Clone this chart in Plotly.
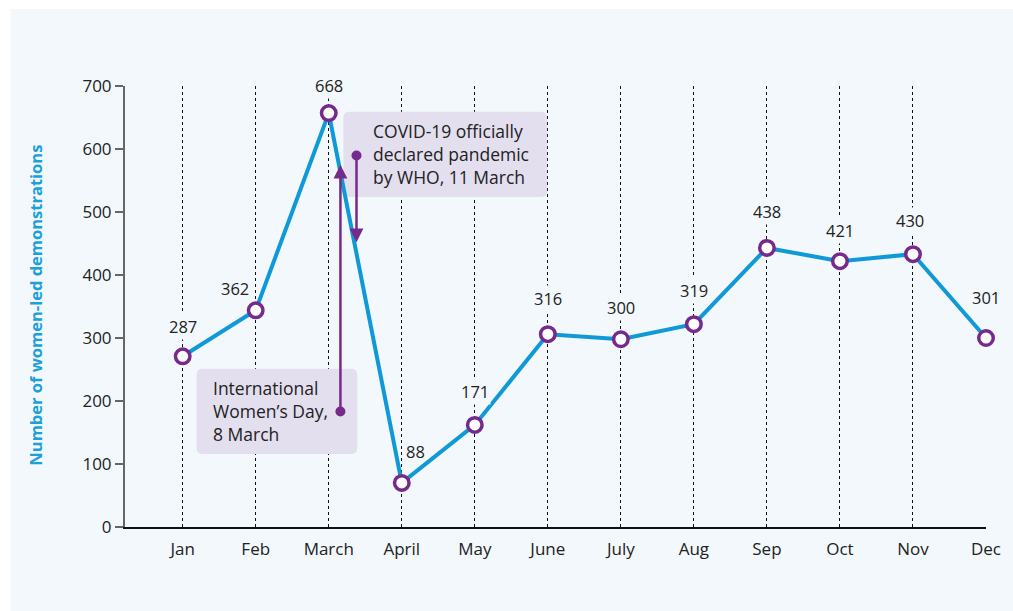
import plotly.graph_objects as go

MONTHS = ["Jan", "Feb", "March", "April", "May", "June", "July", "Aug", "Sep", "Oct", "Nov", "Dec"]
# plotted positions (as drawn) and printed labels
POINT_VALUES = [271, 344, 657, 70, 162, 306, 298, 322, 443, 422, 433, 300]
LABEL_VALUES = [287, 362, 668, 88, 171, 316, 300, 319, 438, 421, 430, 301]
Y_TICKS = [0, 100, 200, 300, 400, 500, 600, 700]

# label offsets (px) from each marker
LABEL_DX = [0, -21, 0, 14, 0, 0, 0, 0, 0, 0, -3, 0]
LABEL_DY = [30, 22, 28, 31, 33, 36, 32, 34, 36, 31, 34, 41]

BLUE = "#0f9ad7"
PURPLE = "#762a8c"
PANEL = "#f3f8fc"
BOX = "#e3dfef"
FONT = "Open Sans"


def rounded_rect(x0, x1, y0, y1, rx, ry):
    """SVG path for a rectangle with rounded corners (in data units)."""
    return (
        f"M {x0 + rx},{y0} L {x1 - rx},{y0} Q {x1},{y0} {x1},{y0 + ry} "
        f"L {x1},{y1 - ry} Q {x1},{y1} {x1 - rx},{y1} "
        f"L {x0 + rx},{y1} Q {x0},{y1} {x0},{y1 - ry} "
        f"L {x0},{y0 + ry} Q {x0},{y0} {x0 + rx},{y0} Z"
    )


fig = go.Figure()

fig.add_trace(
    go.Scatter(
        x=list(range(len(MONTHS))),
        y=POINT_VALUES,
        mode="lines+markers",
        line=dict(color=BLUE, width=4),
        marker=dict(size=14.5, color="white", line=dict(color=PURPLE, width=3.5)),
        cliponaxis=False,
        hoverinfo="skip",
        showlegend=False,
    )
)

annotations = []
for i, (v, lab) in enumerate(zip(POINT_VALUES, LABEL_VALUES)):
    # label sits close to the line for April; no backing box there
    bg = "rgba(0,0,0,0)" if MONTHS[i] == "April" else PANEL
    annotations.append(
        dict(
            x=i, y=v, text=str(lab), showarrow=False,
            xshift=LABEL_DX[i], yshift=LABEL_DY[i],
            font=dict(family=FONT, size=16.5, color="#222"),
            bgcolor=bg, borderpad=1,
        )
    )

# event notes
annotations.append(
    dict(
        x=2.58, y=592, xanchor="left", yanchor="middle", align="left",
        text="COVID-19 officially<br>declared pandemic<br>by WHO, 11 March",
        showarrow=False, font=dict(family=FONT, size=17.5, color="#222"),
    )
)
annotations.append(
    dict(
        x=0.39, y=184, xanchor="left", yanchor="middle", align="left",
        text="International<br>Women’s Day,<br>8 March",
        showarrow=False, font=dict(family=FONT, size=17.5, color="#222"),
    )
)
# arrows: head at (x, y), dot at tail (ax, ay)
annotations.append(
    dict(
        x=2.16, y=575, ax=2.16, ay=181, axref="x", ayref="y", text="",
        showarrow=True, arrowhead=2, arrowsize=1.1, arrowwidth=2.5,
        arrowside="end+start", startarrowhead=6, startarrowsize=1,
        arrowcolor=PURPLE, standoff=0, startstandoff=0,
    )
)
annotations.append(
    dict(
        x=2.38, y=452, ax=2.38, ay=592, axref="x", ayref="y", text="",
        showarrow=True, arrowhead=2, arrowsize=1.1, arrowwidth=2.5,
        arrowside="end+start", startarrowhead=6, startarrowsize=1,
        arrowcolor=PURPLE, standoff=0, startstandoff=0,
    )
)
annotations.append(
    dict(
        xref="paper", yref="paper", x=-0.104, y=0.503,
        xanchor="center", yanchor="middle",
        text="<b>Number of women-led demonstrations</b>", textangle=-90,
        showarrow=False, font=dict(family=FONT, size=16.5, color="#1aa0da"),
    )
)

shapes = [
    dict(type="rect", xref="paper", yref="paper", x0=-0.133, x1=1.1, y0=-0.4, y1=1.1746,
         fillcolor=PANEL, line=dict(width=0), layer="below"),
    dict(type="path", xref="x", yref="y", path=rounded_rect(2.20, 4.99, 524, 659, 0.08, 9.5),
         fillcolor=BOX, line=dict(width=0), layer="between"),
    dict(type="path", xref="x", yref="y", path=rounded_rect(0.19, 2.39, 116, 251, 0.08, 9.5),
         fillcolor=BOX, line=dict(width=0), layer="between"),
]

fig.update_layout(
    width=1013,
    height=611,
    margin=dict(l=125, r=22, t=86, b=84),
    paper_bgcolor="white",
    plot_bgcolor="rgba(0,0,0,0)",
    font=dict(family=FONT, size=17, color="#222"),
    xaxis=dict(
        range=[-0.79, 11],
        tickvals=list(range(len(MONTHS))),
        ticktext=MONTHS,
        showgrid=True,
        griddash="dot",
        gridcolor="#111",
        gridwidth=1,
        showline=True,
        linecolor="#111",
        linewidth=1.5,
        ticks="",
        ticklabelstandoff=6,
        zeroline=False,
        tickfont=dict(family=FONT, size=17, color="#222"),
        fixedrange=True,
    ),
    yaxis=dict(
        range=[0, 700],
        tickvals=Y_TICKS,
        showgrid=False,
        showline=True,
        linecolor="#666",
        linewidth=2,
        ticks="outside",
        ticklen=8,
        tickwidth=1.5,
        tickcolor="#666",
        zeroline=False,
        tickfont=dict(family=FONT, size=17, color="#222"),
        fixedrange=True,
    ),
    shapes=shapes,
    annotations=annotations,
    showlegend=False,
)

# page has no body margin so the 1013x611 figure fills the window
fig.write_html(
    "out.html",
    config={"displayModeBar": False},
    post_script="document.body.style.margin='0';document.body.style.overflow='hidden';",
)
